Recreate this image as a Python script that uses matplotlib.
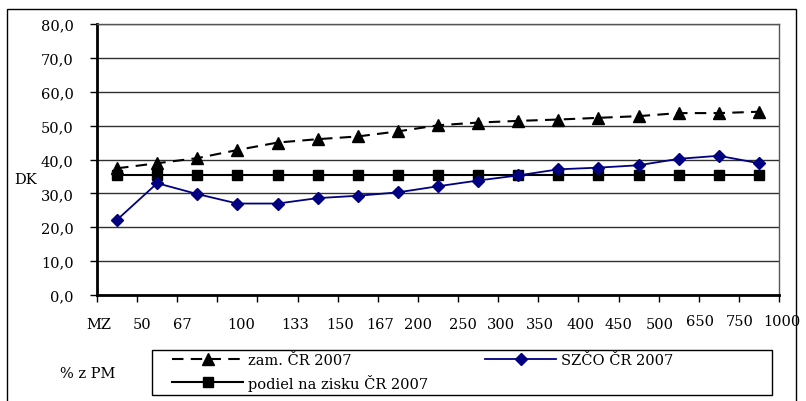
import matplotlib
matplotlib.use("Agg")
import matplotlib.pyplot as plt
from matplotlib.patches import Rectangle

# ---- data ----
categories = ["MZ", "50", "67", "100", "133", "150", "167", "200", "250",
              "300", "350", "400", "450", "500", "650", "750", "1000"]
zam_cr_2007 = [37.4, 38.9, 40.4, 42.8, 45.0, 46.0, 46.8, 48.3, 50.1,
               50.9, 51.4, 51.8, 52.3, 52.8, 53.7, 53.7, 54.1]
szco_cr_2007 = [22.2, 33.0, 29.8, 27.0, 27.0, 28.6, 29.3, 30.3, 32.1,
                33.8, 35.3, 37.1, 37.6, 38.3, 40.2, 41.1, 38.9]
podiel_cr_2007 = [35.4] * 17
y_ticks = [0, 10, 20, 30, 40, 50, 60, 70, 80]

# label positions (layout only: where the original chart's text boxes sit)
label_pos = [-0.45, 0.62, 1.62, 3.09, 4.44, 5.56, 6.55, 7.5, 8.62,
             9.57, 10.54, 11.54, 12.51, 13.53, 14.53, 15.53, 16.57]
label_raise = [0]*14 + [1, 1, 1]

plt.rcParams['font.family'] = ['DejaVu Serif']
FS = 10.5

W, H = 806, 402
fig = plt.figure(figsize=(W/100, H/100), dpi=100)

# outer frame
fig.patches.append(Rectangle((7/W, -0.01), (796-7)/W, 1 - 10/H + 0.01,
                             transform=fig.transFigure, fill=False,
                             edgecolor='black', linewidth=1.0))
# legend frame
fig.patches.append(Rectangle((152/W, 1-396/H), (772-152)/W, 45/H,
                             transform=fig.transFigure, fill=False,
                             edgecolor='black', linewidth=1.0))

ax = fig.add_axes([97/W, 1-296/H, (779-97)/W, (296-25)/H])
x = list(range(len(categories)))

ax.plot(x, zam_cr_2007, color='black', linestyle=(0, (5.5, 3.5)), linewidth=1.5,
        marker='^', markersize=8, markerfacecolor='black', markeredgecolor='black',
        label='zam. ČR 2007', zorder=3)
ax.plot(x, podiel_cr_2007, color='black', linestyle='-', linewidth=1.5,
        marker='s', markersize=7, markerfacecolor='black', markeredgecolor='black',
        label='podiel na zisku ČR 2007', zorder=3)
ax.plot(x, szco_cr_2007, color='#000080', linestyle='-', linewidth=1.3,
        marker='D', markersize=6.5, markerfacecolor='#000080', markeredgecolor='#000080',
        label='SZČO ČR 2007', zorder=4)

ax.set_xlim(-0.5, len(categories) - 0.5)
ax.set_ylim(0, 80)
ax.set_yticks(y_ticks)
ax.set_yticklabels([f"{v:.1f}".replace('.', ',') for v in y_ticks], fontsize=FS)
ax.set_xticks([i - 0.5 for i in range(len(categories) + 1)])
ax.set_xticklabels([])
ax.tick_params(axis='y', direction='out', length=5, width=1, pad=12)
ax.tick_params(axis='x', direction='out', length=5, width=1)
ax.yaxis.grid(True, color='#303030', linewidth=1.0)
ax.set_axisbelow(True)
for s in ['left', 'bottom']:
    ax.spines[s].set_linewidth(2)
    ax.spines[s].set_color('black')
for s in ['top', 'right']:
    ax.spines[s].set_linewidth(1)
    ax.spines[s].set_color('#555555')

for lab, p, r in zip(categories, label_pos, label_raise):
    ax.text(p, -0.108 + 0.011 * r, lab, transform=ax.get_xaxis_transform(),
            ha='center', va='center', fontsize=FS)

fig.text(26/W, 1-180/H, "DK", ha='center', va='center', fontsize=FS)
fig.text(88/W, 1-374/H, "% z PM", ha='center', va='center', fontsize=FS)

h, l = ax.get_legend_handles_labels()
em = FS * 100 / 72.0  # font size in px
leg = fig.legend(h, l, loc='upper left', bbox_to_anchor=(172/W, 1-354/H),
                 ncol=2, frameon=False, fontsize=FS,
                 handlelength=71/em, handletextpad=5/em, columnspacing=57/em,
                 borderpad=0.0, labelspacing=0.45, borderaxespad=0)

fig.savefig("out.png", dpi=100)
